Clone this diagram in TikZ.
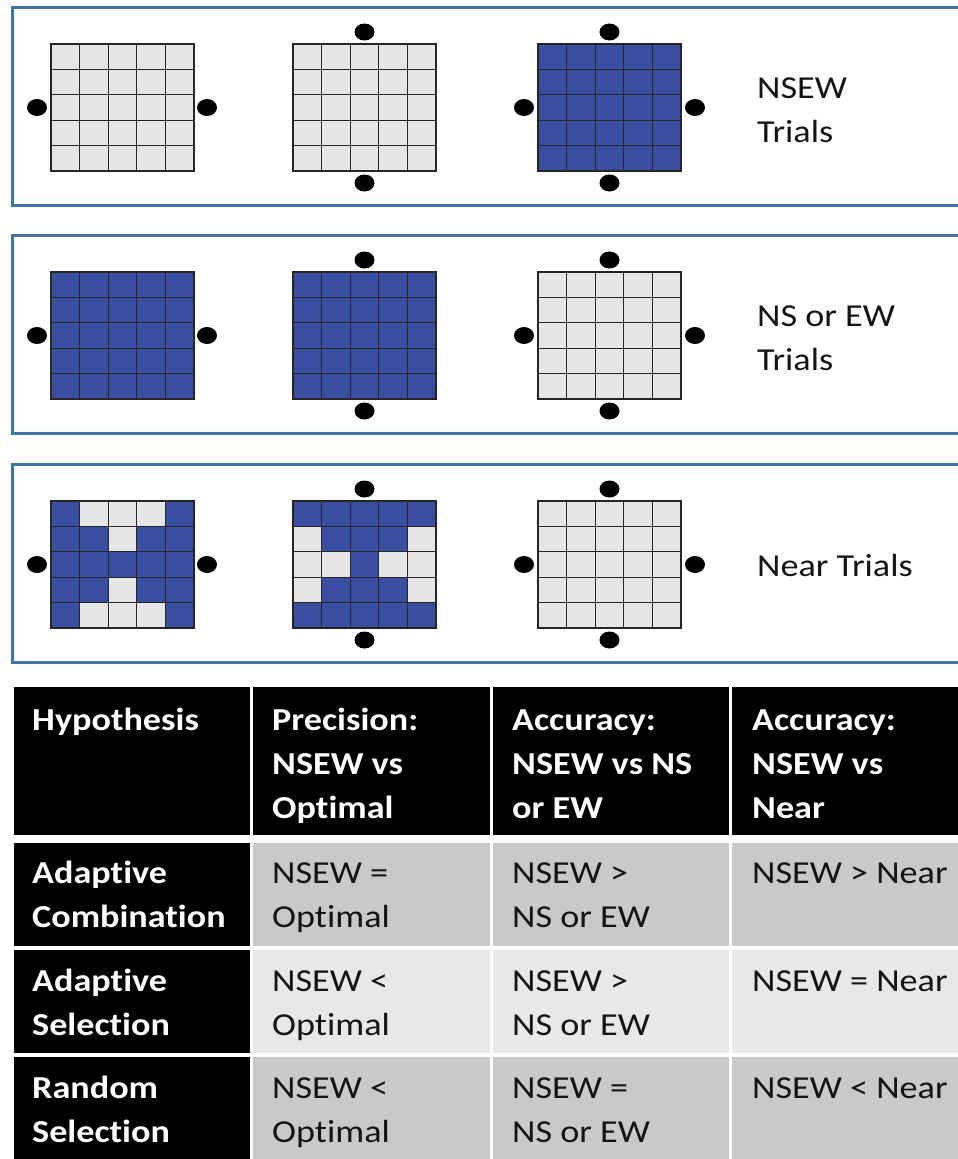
\documentclass[tikz,border=0pt]{standalone}
\usepackage{fontspec}
\setmainfont{Carlito}[FakeStretch=1.13, Ligatures=NoCommon]
\usetikzlibrary{positioning}
\definecolor{cellblue}{HTML}{3A4EA0}
\definecolor{cellgray}{HTML}{E6E6E6}
\definecolor{panelblue}{HTML}{3F72A8}
\definecolor{rowdark}{HTML}{C9C9C9}
\definecolor{rowlight}{HTML}{E8E8E8}
\tikzset{
  panel/.style={draw=panelblue, line width=3pt},
  gridline/.style={draw=black!85, line width=1.3pt, line cap=rect},
  txt/.style={anchor=base west, inner sep=0pt, align=left, font=\fontsize{32}{44}\selectfont},
  headtxt/.style={txt, text=white, font=\bfseries\fontsize{32}{44}\selectfont},
  bodytxt/.style={txt, text=black!92}
}
\newcommand{\blob}[2]{\fill (#1,#2) ellipse [x radius=10pt, y radius=8.5pt];}

\begin{document}
\begin{tikzpicture}[x=1pt, y=-1pt]
  \clip (0,0) rectangle (958,1159);
  % trial panels
  \foreach \gy/\fa/\fb/\fc in {44/cellgray/cellgray/cellblue, 272/cellblue/cellblue/cellgray, 501/cellblue/cellblue/cellgray} {
    \draw[panel] (12,\gy-37) rectangle (975,\gy+161);
    \fill[\fa] (51,\gy) rectangle ++(143,127);
    \fill[\fb] (293,\gy) rectangle ++(143,127);
    \fill[\fc] (538,\gy) rectangle ++(143,127);
  }
  \foreach \c/\r in {1/0,2/0,3/0,2/1,2/3,1/4,2/4,3/4}
    \fill[cellgray] (51+28.6*\c,501+25.4*\r) rectangle ++(28.6,25.4);
  \foreach \c/\r in {0/1,4/1,0/2,1/2,3/2,4/2,0/3,4/3}
    \fill[cellgray] (293+28.6*\c,501+25.4*\r) rectangle ++(28.6,25.4);
  \foreach \gy in {44,272,501} {
    \foreach \gx in {51,293,538} \foreach \k in {0,...,5} {
      \draw[gridline] (\gx+28.6*\k,\gy) -- ++(0,127);
      \draw[gridline] (\gx,\gy+25.4*\k) -- ++(143,0);
    }
    \blob{37}{\gy+63.5} \blob{207}{\gy+63.5}
    \blob{364.5}{\gy-12} \blob{364.5}{\gy+139}
    \blob{524}{\gy+63.5} \blob{695}{\gy+63.5}
    \blob{609.5}{\gy-12} \blob{609.5}{\gy+139}
  }
  % base anchor sits on the last line
  \node[bodytxt] (nsewlab) at (757,142.5) {NSEW\\Trials};
  \node[bodytxt] (nsorewlab) at (757,370.5) {NS or EW\\Trials};
  \node[bodytxt] (nearlab) at (757,576) {Near Trials};

  % hypothesis table
  \foreach \xa/\xb in {14/250,253/490,493/729,732/975}
    \fill[black] (\xa,687) rectangle (\xb,835);
  \foreach \ya/\yb/\shade in {843/946/rowdark, 950/1053/rowlight, 1057/1170/rowdark} {
    \fill[black] (14,\ya) rectangle (250,\yb);
    \foreach \xa/\xb in {253/490,493/729,732/975}
      \fill[\shade] (\xa,\ya) rectangle (\xb,\yb);
  }
  \node[headtxt] (hyp) at (32,730) {Hypothesis};
  \node[headtxt] (prec) at (272,818) {Precision:\\NSEW vs\\Optimal};
  \node[headtxt] (accns) at (512,818) {Accuracy:\\NSEW vs NS\\or EW};
  \node[headtxt] (accnear) at (752,818) {Accuracy:\\NSEW vs\\Near};

  \node[headtxt] (adcomb) at (32,927) {Adaptive\\Combination};
  \node[bodytxt] (adcombp) at (272,927) {NSEW =\\Optimal};
  \node[bodytxt] (adcomba) at (512,927) {NSEW >\\NS or EW};
  \node[bodytxt] (adcombn) at (752,883) {NSEW > Near};

  \node[headtxt] (adsel) at (32,1035) {Adaptive\\Selection};
  \node[bodytxt] (adselp) at (272,1035) {NSEW <\\Optimal};
  \node[bodytxt] (adsela) at (512,1035) {NSEW >\\NS or EW};
  \node[bodytxt] (adseln) at (752,991) {NSEW = Near};

  \node[headtxt] (rndsel) at (32,1142) {Random\\Selection};
  \node[bodytxt] (rndselp) at (272,1142) {NSEW <\\Optimal};
  \node[bodytxt] (rndsela) at (512,1142) {NSEW =\\NS or EW};
  \node[bodytxt] (rndseln) at (752,1098) {NSEW < Near};
\end{tikzpicture}
\end{document}
